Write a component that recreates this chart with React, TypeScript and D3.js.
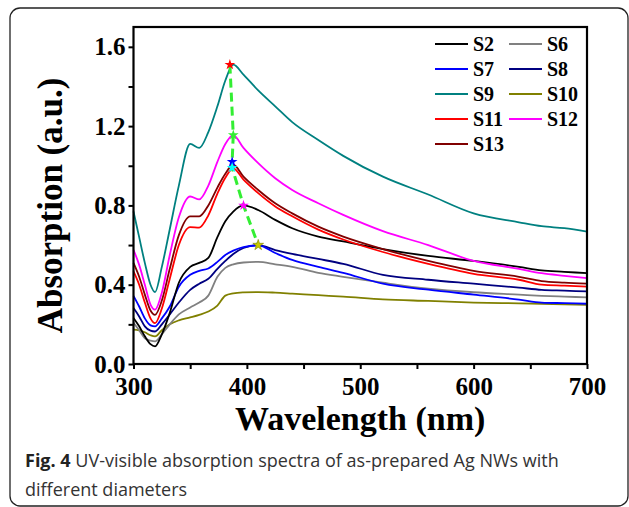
import * as d3 from "d3";
import { useEffect, useRef } from "react";

// wavelength grid (nm) shared by all spectra
const wavelengths = [300, 305, 310, 315, 319, 325, 332, 340, 350, 358, 366, 374, 381, 388, 397, 410, 425, 440, 463, 485, 520, 560, 600, 640, 660, 680, 700];

const s2 = [0.232, 0.19, 0.14, 0.1, 0.089, 0.15, 0.258, 0.41, 0.49, 0.51, 0.535, 0.64, 0.72, 0.769, 0.8, 0.777, 0.727, 0.685, 0.643, 0.618, 0.58, 0.545, 0.52, 0.49, 0.472, 0.465, 0.458];
const s6 = [0.208, 0.17, 0.13, 0.118, 0.114, 0.15, 0.2, 0.25, 0.285, 0.31, 0.345, 0.44, 0.485, 0.503, 0.512, 0.515, 0.503, 0.49, 0.46, 0.44, 0.41, 0.38, 0.362, 0.35, 0.344, 0.34, 0.336];
const s7 = [0.344, 0.29, 0.23, 0.195, 0.19, 0.23, 0.29, 0.39, 0.45, 0.47, 0.482, 0.515, 0.55, 0.572, 0.59, 0.598, 0.56, 0.525, 0.49, 0.46, 0.405, 0.375, 0.35, 0.325, 0.31, 0.307, 0.304];
const s8 = [0.282, 0.24, 0.19, 0.168, 0.164, 0.2, 0.25, 0.31, 0.374, 0.405, 0.43, 0.48, 0.52, 0.555, 0.585, 0.6, 0.575, 0.555, 0.53, 0.505, 0.45, 0.425, 0.405, 0.385, 0.374, 0.37, 0.366];
const s9 = [0.77, 0.64, 0.51, 0.4, 0.363, 0.49, 0.68, 0.9, 1.11, 1.09, 1.17, 1.3, 1.43, 1.51, 1.46, 1.38, 1.3, 1.22, 1.13, 1.05, 0.945, 0.855, 0.76, 0.715, 0.695, 0.685, 0.668];
const s10 = [0.173, 0.17, 0.16, 0.145, 0.139, 0.17, 0.2, 0.22, 0.235, 0.248, 0.265, 0.295, 0.345, 0.356, 0.361, 0.363, 0.36, 0.355, 0.347, 0.34, 0.326, 0.318, 0.31, 0.306, 0.304, 0.301, 0.299];
const s11 = [0.467, 0.4, 0.31, 0.23, 0.206, 0.28, 0.43, 0.6, 0.69, 0.688, 0.75, 0.86, 0.94, 0.987, 0.93, 0.862, 0.795, 0.745, 0.678, 0.628, 0.565, 0.505, 0.455, 0.425, 0.4, 0.395, 0.39];
const s12 = [0.576, 0.5, 0.4, 0.3, 0.274, 0.36, 0.55, 0.74, 0.845, 0.83, 0.9, 1.02, 1.11, 1.155, 1.09, 1.013, 0.937, 0.878, 0.811, 0.752, 0.67, 0.6, 0.52, 0.48, 0.458, 0.445, 0.433];
const s13 = [0.51, 0.44, 0.35, 0.27, 0.248, 0.32, 0.48, 0.65, 0.745, 0.745, 0.8, 0.89, 0.96, 1.005, 0.945, 0.878, 0.811, 0.76, 0.693, 0.643, 0.58, 0.52, 0.47, 0.44, 0.418, 0.41, 0.405];

const seriesNames = ["S2", "S6", "S7", "S8", "S9", "S10", "S11", "S12", "S13"];
const seriesValues = [s2, s6, s7, s8, s9, s10, s11, s12, s13];
const seriesColors = ["#000000", "#808080", "#0000ff", "#000080", "#008080", "#808000", "#ff0000", "#ff00ff", "#800000"];
// drawing order, back to front
const drawOrder = ["S10", "S6", "S8", "S7", "S2", "S11", "S13", "S12", "S9"];

// peak markers joined by the dashed guide
const peakWavelengths = [385, 388, 387, 387, 397, 410];
const peakValues = [1.51, 1.155, 1.02, 0.99, 0.8, 0.6];
const peakColors = ["#ff0000", "#33ee33", "#0000ff", "#00ffff", "#ff00ff", "#c8c800"];

const xTicks = [300, 350, 400, 450, 500, 550, 600, 650, 700];
const yTicks = [0, 0.2, 0.4, 0.6, 0.8, 1.0, 1.2, 1.4, 1.6];

const serif = "'Liberation Serif', 'Times New Roman', serif";

function drawChart(svgElement: SVGSVGElement) {
  const width = 629;
  const height = 507;
  const margin = { top: 27, right: 42, bottom: 143, left: 133.5 };
  const svg = d3.select(svgElement);
  svg.selectAll("*").remove();
  svg.attr("width", width).attr("height", height).attr("viewBox", `0 0 ${width} ${height}`);

  svg
    .append("rect")
    .attr("x", 10)
    .attr("y", 8)
    .attr("width", 618)
    .attr("height", 498)
    .attr("rx", 10)
    .attr("fill", "white")
    .attr("stroke", "#222")
    .attr("stroke-width", 1.3);

  const x = d3.scaleLinear().domain([300, 700]).range([margin.left, width - margin.right]);
  const y = d3.scaleLinear().domain([0, 1.7]).range([height - margin.bottom, margin.top]);

  const line = d3
    .line<number>()
    .x((_, i) => x(wavelengths[i]))
    .y((d) => y(d))
    .curve(d3.curveMonotoneX);

  svg
    .append("g")
    .selectAll("path")
    .data(drawOrder)
    .join("path")
    .attr("d", (name) => line(seriesValues[seriesNames.indexOf(name)]))
    .attr("fill", "none")
    .attr("stroke", (name) => seriesColors[seriesNames.indexOf(name)])
    .attr("stroke-width", 1.8);

  // dashed guide through the peaks
  const guide = d3
    .line<number>()
    .x((_, i) => x(peakWavelengths[i]))
    .y((d) => y(d));
  svg
    .append("path")
    .attr("d", guide(peakValues))
    .attr("fill", "none")
    .attr("stroke", "#33ee33")
    .attr("stroke-width", 3)
    .attr("stroke-dasharray", "9 5");

  const star = d3.symbol().type(d3.symbolStar).size(36);
  svg
    .append("g")
    .selectAll("path")
    .data(peakValues)
    .join("path")
    .attr("transform", (d, i) => `translate(${x(peakWavelengths[i])},${y(d)})`)
    .attr("d", star)
    .attr("fill", (_, i) => peakColors[i])
    .attr("stroke", (_, i) => (i === 5 ? "#808000" : "none"))
    .attr("stroke-width", 0.6);

  // axes
  const xAxis = svg
    .append("g")
    .attr("transform", `translate(0,${height - margin.bottom})`)
    .call(
      d3
        .axisBottom(x)
        .tickValues(xTicks)
        .tickSize(5)
        .tickSizeOuter(0)
        .tickPadding(8)
        .tickFormat((d) => ((d as number) % 100 === 0 ? String(d) : ""))
    );
  const yAxis = svg
    .append("g")
    .attr("transform", `translate(${margin.left},0)`)
    .call(
      d3
        .axisLeft(y)
        .tickValues(yTicks)
        .tickSize(5)
        .tickSizeOuter(0)
        .tickPadding(3)
        .tickFormat((d) => (Math.round((d as number) * 10) % 4 === 0 ? d3.format(".1f")(d as number) : ""))
    );
  for (const axis of [xAxis, yAxis]) {
    axis.select(".domain").remove();
    axis.selectAll("line").attr("stroke", "#000").attr("stroke-width", 2);
    axis
      .selectAll("text")
      .attr("fill", "#000")
      .style("font-family", serif)
      .style("font-weight", "bold")
      .style("font-size", "25px");
  }

  svg
    .append("rect")
    .attr("x", margin.left)
    .attr("y", margin.top)
    .attr("width", width - margin.left - margin.right)
    .attr("height", height - margin.top - margin.bottom)
    .attr("fill", "none")
    .attr("stroke", "#000")
    .attr("stroke-width", 2.2);

  // legend, two columns
  const legend = svg.append("g").attr("transform", "translate(435,44)");
  const items = legend
    .selectAll("g")
    .data(seriesNames)
    .join("g")
    .attr("transform", (_, i) => `translate(${(i % 2) * 74},${Math.floor(i / 2) * 25})`);
  items
    .append("line")
    .attr("x1", 0)
    .attr("x2", 33)
    .attr("stroke", (_, i) => seriesColors[i])
    .attr("stroke-width", 1.8);
  items
    .append("text")
    .attr("x", 38)
    .attr("dy", "0.34em")
    .text((d) => d)
    .style("font-family", serif)
    .style("font-weight", "bold")
    .style("font-size", "20px");

  // axis titles
  svg
    .append("text")
    .attr("x", (margin.left + width - margin.right) / 2)
    .attr("y", 430)
    .attr("text-anchor", "middle")
    .text("Wavelength (nm)")
    .style("font-family", serif)
    .style("font-weight", "bold")
    .style("font-size", "34px");
  svg
    .append("text")
    .attr("transform", `translate(62,${(margin.top + height - margin.bottom) / 2 + 10}) rotate(-90)`)
    .attr("text-anchor", "middle")
    .text("Absorption (a.u.)")
    .style("font-family", serif)
    .style("font-weight", "bold")
    .style("font-size", "35px");

  // caption
  const caption = svg
    .append("text")
    .attr("fill", "#333")
    .style("font-family", "'Open Sans', sans-serif")
    .style("font-size", "18px");
  const first = caption.append("tspan").attr("x", 25).attr("y", 467);
  first.append("tspan").style("font-weight", "bold").attr("fill", "#222").text("Fig. 4");
  first.append("tspan").text(" UV-visible absorption spectra of as-prepared Ag NWs with");
  caption.append("tspan").attr("x", 25).attr("y", 496).text("different diameters");
}

export default function App() {
  const svgRef = useRef<SVGSVGElement>(null);

  useEffect(() => {
    if (svgRef.current) drawChart(svgRef.current);
  }, []);

  return (
    <svg
      ref={svgRef}
      role="img"
      aria-label="UV-visible absorption spectra"
      style={{ position: "absolute", left: 0, top: 0, display: "block" }}
    />
  );
}
